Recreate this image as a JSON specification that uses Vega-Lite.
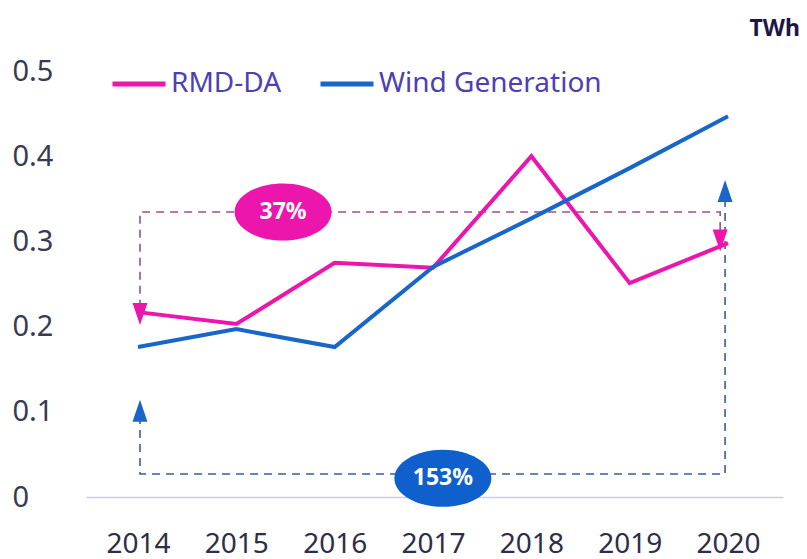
{
  "$schema": "https://vega.github.io/schema/vega-lite/v6.json",
  "width": 697,
  "height": 426,
  "autosize": {"type": "none"},
  "padding": {"left": 86, "top": 71, "right": 24, "bottom": 62},
  "background": "white",
  "config": {
    "view": {"stroke": null},
    "font": "Noto Sans",
    "title": {"font": "Noto Sans"}
  },
  "title": {
    "text": "TWh",
    "anchor": "end",
    "frame": "group",
    "dx": 17,
    "offset": -4,
    "baseline": "alphabetic",
    "fontSize": 23,
    "fontWeight": "bold",
    "color": "#1c1747"
  },
  "layer": [
    {
      "data": {"values": [
        {"order": 1, "year": 2014.02, "value": 0.222},
        {"order": 2, "year": 2014.02, "value": 0.3345},
        {"order": 3, "year": 2019.92, "value": 0.3345},
        {"order": 4, "year": 2019.92, "value": 0.305}
      ]},
      "mark": {"type": "line", "color": "#9c4f93", "strokeWidth": 1.6, "strokeDash": [8, 6]},
      "encoding": {
        "x": {"field": "year", "type": "quantitative"},
        "y": {"field": "value", "type": "quantitative"},
        "order": {"field": "order"}
      }
    },
    {
      "data": {"values": [
        {"order": 1, "year": 2014.02, "value": 0.095},
        {"order": 2, "year": 2014.02, "value": 0.027},
        {"order": 3, "year": 2019.97, "value": 0.027},
        {"order": 4, "year": 2019.97, "value": 0.35}
      ]},
      "mark": {"type": "line", "color": "#3d5c96", "strokeWidth": 1.6, "strokeDash": [8, 6]},
      "encoding": {
        "x": {"field": "year", "type": "quantitative"},
        "y": {"field": "value", "type": "quantitative"},
        "order": {"field": "order"}
      }
    },
    {
      "data": {"values": [
        {"year": 2014, "series": "RMD-DA", "value": 0.217},
        {"year": 2015, "series": "RMD-DA", "value": 0.203},
        {"year": 2016, "series": "RMD-DA", "value": 0.275},
        {"year": 2017, "series": "RMD-DA", "value": 0.269},
        {"year": 2018, "series": "RMD-DA", "value": 0.400},
        {"year": 2019, "series": "RMD-DA", "value": 0.251},
        {"year": 2020, "series": "RMD-DA", "value": 0.298},
        {"year": 2014, "series": "Wind Generation", "value": 0.176},
        {"year": 2015, "series": "Wind Generation", "value": 0.197},
        {"year": 2016, "series": "Wind Generation", "value": 0.176},
        {"year": 2017, "series": "Wind Generation", "value": 0.270},
        {"year": 2018, "series": "Wind Generation", "value": 0.327},
        {"year": 2019, "series": "Wind Generation", "value": 0.386},
        {"year": 2020, "series": "Wind Generation", "value": 0.447}
      ]},
      "mark": {"type": "line", "strokeWidth": 4},
      "encoding": {
        "x": {
          "field": "year", "type": "quantitative",
          "scale": {"domain": [2013.471, 2020.559], "nice": false, "zero": false},
          "axis": {
            "values": [2014, 2015, 2016, 2017, 2018, 2019, 2020],
            "format": "d",
            "title": null,
            "grid": false,
            "ticks": false,
            "domainColor": "#cfcbea",
            "domainWidth": 1.5,
            "labelFontSize": 28,
            "labelColor": "#2e2e48",
            "labelPadding": 33
          }
        },
        "y": {
          "field": "value", "type": "quantitative",
          "scale": {"domain": [0, 0.5], "nice": false},
          "axis": {
            "values": [0, 0.1, 0.2, 0.3, 0.4, 0.5],
            "format": ".1~f",
            "title": null,
            "grid": false,
            "ticks": false,
            "domain": false,
            "labelAlign": "left",
            "labelBaseline": "middle",
            "labelPadding": 74,
            "labelFontSize": 29,
            "labelColor": "#3a3a50"
          }
        },
        "color": {
          "field": "series", "type": "nominal",
          "scale": {"domain": ["RMD-DA", "Wind Generation"], "range": ["#ec16ad", "#1866c9"]},
          "legend": {
            "title": null,
            "orient": "none",
            "legendX": 24,
            "legendY": -16,
            "direction": "horizontal",
            "symbolType": "stroke",
            "symbolSize": 2809,
            "symbolStrokeWidth": 5,
            "labelFontSize": 28,
            "labelColor": "#4d40b3",
            "labelOffset": 3,
            "labelLimit": 400,
            "columnPadding": 28,
            "padding": 0
          }
        }
      }
    },
    {
      "data": {"values": [
        {"year": 2014.02, "value": 0.202},
        {"year": 2019.92, "value": 0.288}
      ]},
      "mark": {"type": "point", "filled": true, "opacity": 1, "color": "#ec16ad",
               "shape": "M 0 0 L -0.34 -1 L 0.34 -1 Z", "size": 1936},
      "encoding": {
        "x": {"field": "year", "type": "quantitative"},
        "y": {"field": "value", "type": "quantitative"}
      }
    },
    {
      "data": {"values": [
        {"year": 2014.02, "value": 0.114},
        {"year": 2019.97, "value": 0.372}
      ]},
      "mark": {"type": "point", "filled": true, "opacity": 1, "color": "#1866c9",
               "shape": "M 0 0 L -0.34 1 L 0.34 1 Z", "size": 1936},
      "encoding": {
        "x": {"field": "year", "type": "quantitative"},
        "y": {"field": "value", "type": "quantitative"}
      }
    },
    {
      "data": {"values": [
        {"year": 2015.475, "value": 0.3345, "label": "37%"}
      ]},
      "layer": [
        {
          "mark": {"type": "point", "filled": true, "opacity": 1, "color": "#ec16ad",
                   "shape": "M -1 0 A 1 0.59 0 1 1 1 0 A 1 0.59 0 1 1 -1 0 Z", "size": 9409},
          "encoding": {
            "x": {"field": "year", "type": "quantitative"},
            "y": {"field": "value", "type": "quantitative"}
          }
        },
        {
          "mark": {"type": "text", "color": "white", "fontSize": 23, "fontWeight": "bold", "baseline": "middle", "align": "center"},
          "encoding": {
            "x": {"field": "year", "type": "quantitative"},
            "y": {"field": "value", "type": "quantitative"},
            "text": {"field": "label"}
          }
        }
      ]
    },
    {
      "data": {"values": [
        {"year": 2017.1, "value": 0.022, "label": "153%"}
      ]},
      "layer": [
        {
          "mark": {"type": "point", "filled": true, "opacity": 1, "color": "#0f5fcc",
                   "shape": "M -1 0 A 1 0.59 0 1 1 1 0 A 1 0.59 0 1 1 -1 0 Z", "size": 9409},
          "encoding": {
            "x": {"field": "year", "type": "quantitative"},
            "y": {"field": "value", "type": "quantitative"}
          }
        },
        {
          "mark": {"type": "text", "color": "white", "fontSize": 23, "fontWeight": "bold", "baseline": "middle", "align": "center"},
          "encoding": {
            "x": {"field": "year", "type": "quantitative"},
            "y": {"field": "value", "type": "quantitative"},
            "text": {"field": "label"}
          }
        }
      ]
    }
  ]
}
